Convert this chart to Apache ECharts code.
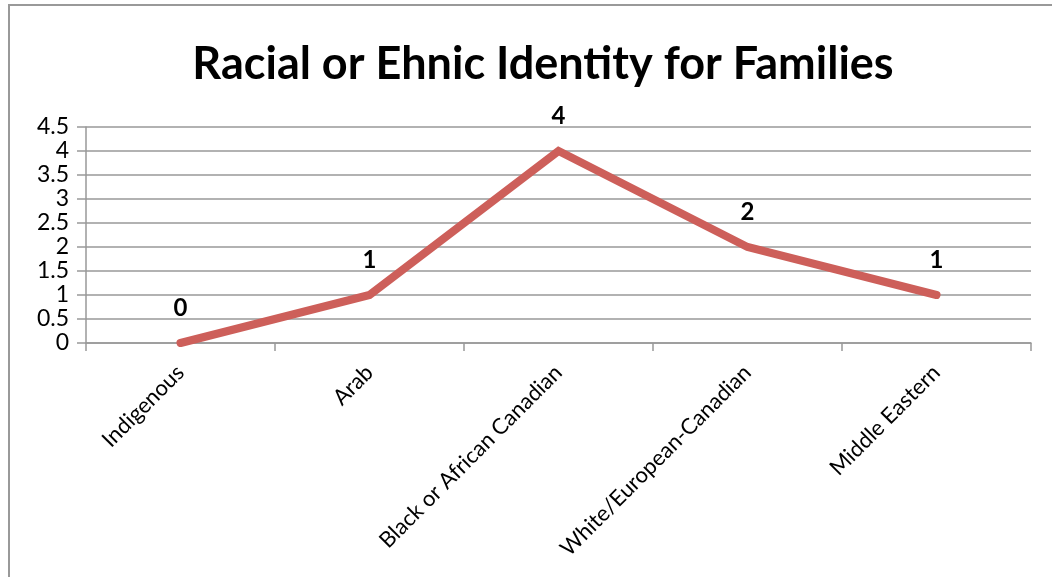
<!DOCTYPE html>
<html><head><meta charset="utf-8">
<script src="https://cdn.jsdelivr.net/npm/echarts@6/dist/echarts.min.js"></script>
<style>html,body{margin:0;padding:0;background:#fff}#c{width:1052px;height:577px}</style>
</head><body><div id="c"></div>
<script>
const titleText = 'Racial or Ehnic Identity for Families';
const categories = ['Indigenous', 'Arab', 'Black or African Canadian', 'White/European-Canadian', 'Middle Eastern'];
const values = [0, 1, 4, 2, 1];
const yTicks = [0, 0.5, 1, 1.5, 2, 2.5, 3, 3.5, 4, 4.5];

const chart = echarts.init(document.getElementById('c'));
const font = 'Lato, "Noto Sans", sans-serif';
chart.setOption({
  animation: false,
  title: {
    text: titleText, left: 538, top: 37, textAlign: 'center',
    textStyle: {fontFamily: font, fontWeight: 'bold', fontSize: 45, color: '#000'}
  },
  graphic: [{
    type: 'rect', shape: {x: 9, y: 5, width: 1100, height: 700},
    style: {fill: 'none', stroke: '#999', lineWidth: 2}, silent: true
  }],
  grid: {left: 86, right: 21, top: 127, bottom: 234, containLabel: false},
  xAxis: {
    type: 'category', data: categories, boundaryGap: true,
    axisLine: {lineStyle: {color: '#999', width: 1.5}},
    axisTick: {show: true, alignWithLabel: false, length: 8, lineStyle: {color: '#999', width: 1.5}},
    axisLabel: {rotate: 45, fontFamily: font, fontSize: 22, color: '#000', margin: 26, interval: 0}
  },
  yAxis: {
    type: 'value', min: 0, max: 4.5, interval: 0.5,
    axisLine: {show: true, lineStyle: {color: '#999', width: 1.5}},
    axisTick: {show: true, length: 9, lineStyle: {color: '#999', width: 1.5}},
    splitLine: {lineStyle: {color: '#999', width: 1.5}},
    axisLabel: {fontFamily: font, fontSize: 23, color: '#000', margin: 17,
      formatter: v => yTicks.includes(v) ? String(v) : ''}
  },
  series: [{
    type: 'line', data: values, symbol: 'circle', symbolSize: 2, showSymbol: true,
    itemStyle: {color: 'rgba(205,95,90,0)'},
    lineStyle: {color: '#CD5F5A', width: 8, cap: 'round', join: 'miter'},
    label: {show: true, position: 'top', distance: 22, fontFamily: font, fontWeight: 'bold', fontSize: 24, color: '#000'}
  }]
});
</script></body></html>
